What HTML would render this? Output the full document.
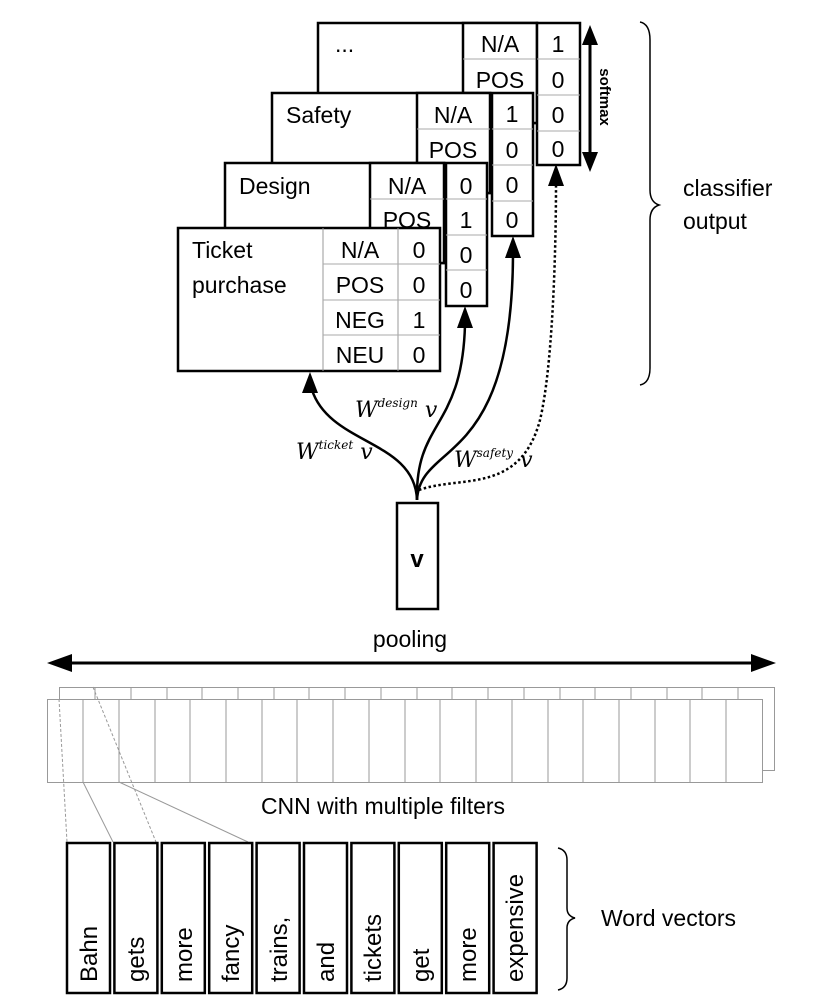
<!DOCTYPE html>
<html><head><meta charset="utf-8"><style>
html,body{margin:0;padding:0;background:#fff}
svg{display:block}
text{font-family:"Liberation Sans",sans-serif;fill:#000}
.s{font-family:"DejaVu Serif","Liberation Serif",serif;font-style:italic}
</style></head><body>
<svg width="830" height="1008" viewBox="0 0 830 1008" xmlns="http://www.w3.org/2000/svg">
<g font-size="23" text-anchor="middle">
<!-- "..." layer -->
<rect x="318" y="23" width="219" height="100" fill="#fff" stroke="#000" stroke-width="2.5"/>
<rect x="463" y="23" width="74" height="100" fill="#fff" stroke="#000" stroke-width="2.5"/>
<line x1="463" y1="59" x2="537" y2="59" stroke="#aaa"/>
<rect x="537" y="23" width="43" height="142" fill="#fff" stroke="#000" stroke-width="2.5"/>
<line x1="537" y1="59" x2="580" y2="59" stroke="#aaa"/><line x1="537" y1="95" x2="580" y2="95" stroke="#aaa"/><line x1="537" y1="131" x2="580" y2="131" stroke="#aaa"/>
<text x="335" y="52" text-anchor="start">...</text>
<text x="500" y="52">N/A</text><text x="500" y="88">POS</text>
<text x="558" y="52">1</text><text x="558" y="88">0</text><text x="558" y="123">0</text><text x="558" y="157">0</text>
<!-- Safety -->
<rect x="272" y="93" width="218" height="100" fill="#fff" stroke="#000" stroke-width="2.5"/>
<rect x="417" y="93" width="73" height="100" fill="#fff" stroke="#000" stroke-width="2.5"/>
<line x1="417" y1="129" x2="490" y2="129" stroke="#aaa"/>
<rect x="492" y="93" width="41" height="143" fill="#fff" stroke="#000" stroke-width="2.5"/>
<line x1="492" y1="129" x2="533" y2="129" stroke="#aaa"/><line x1="492" y1="165" x2="533" y2="165" stroke="#aaa"/><line x1="492" y1="201" x2="533" y2="201" stroke="#aaa"/>
<text x="286" y="123" text-anchor="start">Safety</text>
<text x="453" y="123">N/A</text><text x="453" y="158">POS</text>
<text x="512" y="122">1</text><text x="512" y="158">0</text><text x="512" y="193">0</text><text x="512" y="228">0</text>
<!-- Design -->
<rect x="225" y="163" width="219" height="100" fill="#fff" stroke="#000" stroke-width="2.5"/>
<rect x="370" y="163" width="74" height="100" fill="#fff" stroke="#000" stroke-width="2.5"/>
<line x1="370" y1="199" x2="444" y2="199" stroke="#aaa"/>
<rect x="446" y="163" width="41" height="143" fill="#fff" stroke="#000" stroke-width="2.5"/>
<line x1="446" y1="199" x2="487" y2="199" stroke="#aaa"/><line x1="446" y1="235" x2="487" y2="235" stroke="#aaa"/><line x1="446" y1="270" x2="487" y2="270" stroke="#aaa"/>
<text x="239" y="194" text-anchor="start">Design</text>
<text x="407" y="194">N/A</text><text x="407" y="228">POS</text>
<text x="466" y="194">0</text><text x="466" y="228">1</text><text x="466" y="263">0</text><text x="466" y="298">0</text>
<!-- Ticket -->
<rect x="178" y="228" width="262" height="143" fill="#fff" stroke="#000" stroke-width="2.5"/>
<line x1="323" y1="228" x2="323" y2="371" stroke="#999"/><line x1="398" y1="228" x2="398" y2="371" stroke="#999"/>
<line x1="323" y1="264" x2="440" y2="264" stroke="#aaa"/><line x1="323" y1="300" x2="440" y2="300" stroke="#aaa"/><line x1="323" y1="335" x2="440" y2="335" stroke="#aaa"/>
<text x="192" y="258" text-anchor="start">Ticket</text>
<text x="192" y="293" text-anchor="start">purchase</text>
<text x="360" y="258">N/A</text><text x="360" y="293">POS</text><text x="360" y="328">NEG</text><text x="360" y="363">NEU</text>
<text x="419" y="258">0</text><text x="419" y="293">0</text><text x="419" y="328">1</text><text x="419" y="363">0</text>
</g>
<!-- softmax -->
<line x1="590" y1="40" x2="590" y2="158" stroke="#000" stroke-width="3"/>
<path d="M582,45 L590,25 L598,45z M582,152 L590,172 L598,152z" fill="#000"/>
<text x="0" y="0" font-size="15" font-weight="bold" text-anchor="middle" transform="translate(600,97) rotate(90)">softmax</text>
<!-- brace -->
<path d="M640,22 Q650,24 650,40 L650,190 Q650,202 659,205 Q650,208 650,220 L650,368 Q650,383 640,385" fill="none" stroke="#000" stroke-width="1.5"/>
<text x="683" y="196" font-size="23">classifier</text>
<text x="683" y="229" font-size="23">output</text>
<!-- connectors -->
<g fill="none" stroke="#000" stroke-width="2.5">
<path d="M417,500 C415,440 330,445 312,390"/>
<path d="M417,500 C415,420 462,430 465,325"/>
<path d="M417,500 C420,440 512,470 513,255"/>
<path d="M419,490 C460,475 520,495 540,420 C552,370 556,260 556,183" stroke-dasharray="2.5,2.5"/>
</g>
<path d="M310,372 L302,393 L318,393z M465,306 L457,328 L473,328z M513,236 L505,258 L521,258z M556,164 L548,186 L564,186z" fill="#000"/>
<g font-size="22">
<text class="s" x="296" y="459">W<tspan font-size="12" dy="-10">ticket</tspan><tspan dy="10"> v</tspan></text>
<text class="s" x="355" y="417">W<tspan font-size="12" dy="-10">design</tspan><tspan dy="10"> v</tspan></text>
<text class="s" x="454" y="467">W<tspan font-size="12" dy="-10">safety</tspan><tspan dy="10"> v</tspan></text>
</g>
<!-- v box -->
<rect x="397" y="503" width="41" height="106" fill="#fff" stroke="#000" stroke-width="2.5"/>
<text x="417" y="567" font-size="24" font-weight="bold" text-anchor="middle">v</text>
<!-- pooling -->
<text x="410" y="647" font-size="23" text-anchor="middle">pooling</text>
<line x1="62" y1="663" x2="756" y2="663" stroke="#000" stroke-width="3"/>
<path d="M47,663 L72,654 L72,672z M776,663 L751,654 L751,672z" fill="#000"/>
<!-- CNN layers -->
<g stroke="#999" stroke-width="1" fill="#fff">
<rect x="59.5" y="687.5" width="715" height="83"/>
<rect x="47.5" y="699.5" width="715" height="83"/>
</g>
<g stroke="#999" stroke-width="1">
<line x1="95" y1="687" x2="95" y2="699"/><line x1="131" y1="687" x2="131" y2="699"/><line x1="167" y1="687" x2="167" y2="699"/><line x1="202" y1="687" x2="202" y2="699"/><line x1="238" y1="687" x2="238" y2="699"/><line x1="274" y1="687" x2="274" y2="699"/><line x1="309" y1="687" x2="309" y2="699"/><line x1="345" y1="687" x2="345" y2="699"/><line x1="381" y1="687" x2="381" y2="699"/><line x1="417" y1="687" x2="417" y2="699"/><line x1="452" y1="687" x2="452" y2="699"/><line x1="488" y1="687" x2="488" y2="699"/><line x1="524" y1="687" x2="524" y2="699"/><line x1="560" y1="687" x2="560" y2="699"/><line x1="595" y1="687" x2="595" y2="699"/><line x1="631" y1="687" x2="631" y2="699"/><line x1="667" y1="687" x2="667" y2="699"/><line x1="702" y1="687" x2="702" y2="699"/><line x1="738" y1="687" x2="738" y2="699"/>
<line x1="83" y1="699" x2="83" y2="782"/><line x1="119" y1="699" x2="119" y2="782"/><line x1="155" y1="699" x2="155" y2="782"/><line x1="190" y1="699" x2="190" y2="782"/><line x1="226" y1="699" x2="226" y2="782"/><line x1="262" y1="699" x2="262" y2="782"/><line x1="297" y1="699" x2="297" y2="782"/><line x1="333" y1="699" x2="333" y2="782"/><line x1="369" y1="699" x2="369" y2="782"/><line x1="405" y1="699" x2="405" y2="782"/><line x1="440" y1="699" x2="440" y2="782"/><line x1="476" y1="699" x2="476" y2="782"/><line x1="512" y1="699" x2="512" y2="782"/><line x1="548" y1="699" x2="548" y2="782"/><line x1="583" y1="699" x2="583" y2="782"/><line x1="619" y1="699" x2="619" y2="782"/><line x1="655" y1="699" x2="655" y2="782"/><line x1="690" y1="699" x2="690" y2="782"/><line x1="726" y1="699" x2="726" y2="782"/>
<line x1="59" y1="699" x2="67" y2="842" stroke-dasharray="3,2"/>
<line x1="93" y1="687" x2="156" y2="842" stroke-dasharray="3,2"/>
<line x1="83" y1="782" x2="113" y2="842"/>
<line x1="119" y1="782" x2="248" y2="842"/>
</g>
<text x="383" y="814" font-size="23" text-anchor="middle">CNN with multiple filters</text>
<!-- word vectors -->
<g fill="#fff" stroke="#000" stroke-width="2.5">
<rect x="67" y="843" width="43" height="150"/><rect x="114.4" y="843" width="43" height="150"/><rect x="161.8" y="843" width="43" height="150"/><rect x="209.2" y="843" width="43" height="150"/><rect x="256.6" y="843" width="43" height="150"/><rect x="304" y="843" width="43" height="150"/><rect x="351.4" y="843" width="43" height="150"/><rect x="398.8" y="843" width="43" height="150"/><rect x="446.2" y="843" width="43" height="150"/><rect x="493.6" y="843" width="43" height="150"/>
</g>
<g font-size="24">
<text transform="translate(97,982) rotate(-90)">Bahn</text>
<text transform="translate(144,982) rotate(-90)">gets</text>
<text transform="translate(192,982) rotate(-90)">more</text>
<text transform="translate(239,982) rotate(-90)">fancy</text>
<text transform="translate(287,982) rotate(-90)">trains,</text>
<text transform="translate(334,982) rotate(-90)">and</text>
<text transform="translate(381,982) rotate(-90)">tickets</text>
<text transform="translate(429,982) rotate(-90)">get</text>
<text transform="translate(476,982) rotate(-90)">more</text>
<text transform="translate(523,982) rotate(-90)">expensive</text>
</g>
<path d="M558,848 Q567,850 567,860 L567,908 Q567,916 575,918 Q567,920 567,928 L567,978 Q567,988 558,990" fill="none" stroke="#000" stroke-width="1.5"/>
<text x="601" y="926" font-size="23">Word vectors</text>
</svg>
</body></html>
